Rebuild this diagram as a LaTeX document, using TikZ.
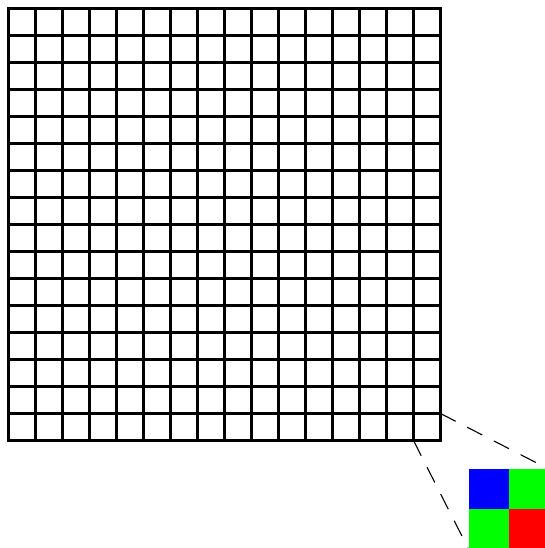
\documentclass[tikz,border=0pt]{standalone}
\begin{document}
\begin{tikzpicture}[x=1pt,y=-1pt,
  gridline/.style={line width=3pt,line cap=rect},
  zoomline/.style={line width=1.1pt,dash pattern=on 17pt off 13pt},
  pix/.style={draw=none}]
\useasboundingbox (0,0) rectangle (545,548);
\clip (0,0) rectangle (545,548);
\foreach \i in {0,...,16} {
  \draw[gridline] ({8.5+27*\i},8.5) -- ({8.5+27*\i},440.5);
  \draw[gridline] (8.5,{8.5+27*\i}) -- (440.5,{8.5+27*\i});
}
\coordinate (cellTR) at (440.5,413.5);
\coordinate (cellBL) at (413.5,440.5);
\coordinate (sqTR) at (548.5,469);
\coordinate (sqBL) at (468.5,549);
\fill[blue] (468.5,469) rectangle (508.5,509);
\fill[green] (508.5,469) rectangle (548.5,509);
\fill[green] (468.5,509) rectangle (508.5,549);
\fill[red] (508.5,509) rectangle (548.5,549);
\draw[zoomline] (cellTR) -- (sqTR);
\draw[zoomline] (cellBL) -- (sqBL);
\end{tikzpicture}
\end{document}
